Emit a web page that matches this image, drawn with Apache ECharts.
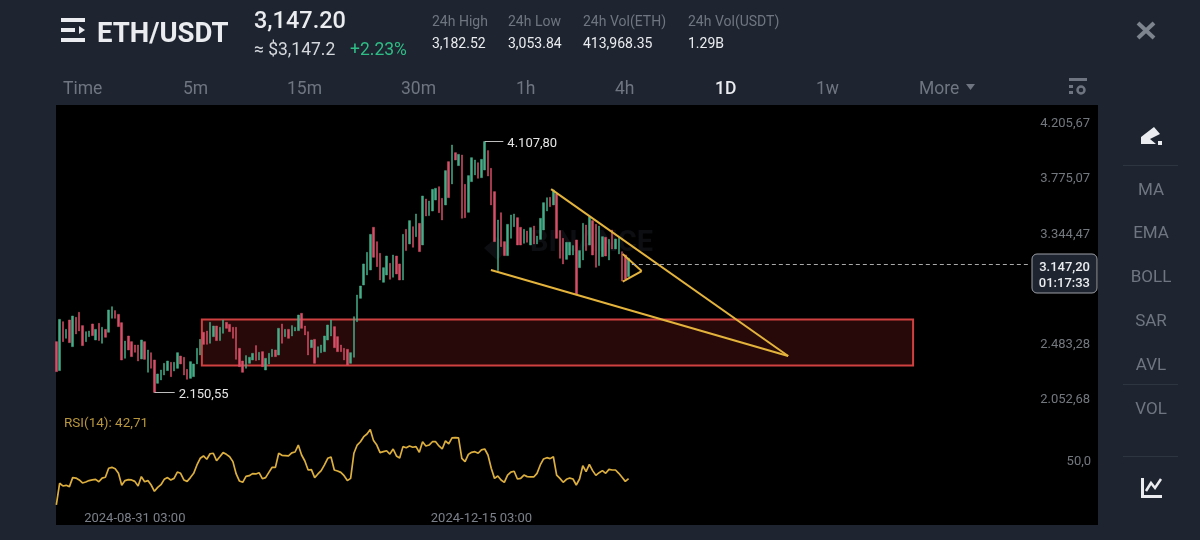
<!DOCTYPE html>
<html>
<head>
<meta charset="utf-8">
<style>html,body{margin:0;padding:0;background:#1e2530}#chart{width:1200px;height:540px}</style>
<script src="https://cdn.jsdelivr.net/npm/echarts@6/dist/echarts.min.js"></script>
</head>
<body>
<div id="chart"></div>
<script>
// daily candles (top and bottom of each bar)
var candleTops = [2547,2721,2703,2643,2716,2747,2737,2776,2672,2625,2630,2685,2643,2690,2659,2643,2794,2820,2789,2760,2695,2552,2591,2547,2521,2521,2560,2547,2482,2461,2404,2295,2326,2378,2396,2386,2386,2461,
  2435,2425,2331,2391,2373,2495,2565,2620,2630,2698,2669,2669,2659,2716,2698,2682,2659,2659,2495,2396,2438,2425,2456,2516,2464,2469,2417,2456,2487,2482,2651,2685,2643,2643,2672,2659,2755,
  2768,2669,2625,2560,2565,2508,2521,2591,2677,2716,2664,2586,2521,2495,2487,2461,2742,2911,2981,3153,3244,3384,3439,3327,3236,3124,3215,3158,3223,3215,3153,3384,3423,3491,3444,3543,
  3470,3683,3660,3644,3735,3743,3756,3665,3881,3951,4081,4021,4008,4003,3774,3842,3982,3964,3943,3969,4107.8,4037,3899,3717,3496,3553,3327,3462,3535,3543,
  3514,3439,3423,3410,3436,3449,3371,3509,3631,3670,3673,3730,3699,3413,3353,3322,3322,3296,3340,3257,3470,3457,3522,3491,3462,3449,3366,3361,3345,3418,3348,3361,3249,3223,3197];
var candleBottoms = [2313,2321,2547,2573,2539,2508,2607,2630,2516,2547,2586,2594,2560,2555,2534,2581,2620,2729,2729,2664,2404,2417,2482,2430,2464,2396,2412,2409,2308,2339,2150.55,2222,2248,2287,2321,2274,2318,2339,
  2373,2287,2253,2261,2274,2373,2443,2526,2526,2534,2586,2555,2555,2612,2651,2625,2573,2409,2352,2308,2339,2378,2404,2399,2404,2352,2326,2373,2430,2430,2443,2534,2586,2573,2591,2630,2633,
  2651,2599,2443,2500,2378,2425,2461,2469,2560,2591,2500,2469,2469,2404,2365,2378,2425,2703,2885,2989,3067,3106,3205,3132,3028,3010,3067,3033,3049,3075,3028,3028,3257,3309,3283,3366,
  3249,3301,3527,3530,3566,3652,3553,3496,3613,3670,3777,3964,3920,3509,3514,3556,3795,3847,3821,3826,3886,3839,3613,3327,3101,3288,3218,3218,3353,3444,
  3301,3301,3314,3322,3301,3309,3309,3345,3418,3566,3600,3613,3353,3197,3153,3189,3223,3223,2919,3124,3184,3257,3301,3223,3127,3140,3210,3215,3184,3270,3270,3231,3020,3036,3054];
// g = up candle, r = down candle
var candleDirs = ('rgrgrgrrrggrgrgrggrrrgrrrrgrgrrggggrgg'
  + 'rrrggggrrggrggrrrrrrgggrgrgggrgrgrggg'
  + 'rrrgrgggggrrrrrgggggggrrrggrgrrgrgrg'
  + 'rgrgggrrgrgrgrrgggrggrrrgrrggg'
  + 'rrgrgrggggrgrrrgggrggrgrrggrgrggrrg').split('');
var rsiValues = [26,39.7,38,38.4,37.6,43.3,43,41.8,39.9,40.5,41.4,41.8,42.2,40.7,43,43.5,49.2,49.8,48.9,46,38.4,41.4,42,41.8,40.9,38,43.9,40.7,41.4,38.6,34.6,37.1,38.8,42.2,43.3,41.8,42.8,46.8,46,41.8,40.9,43.3,46,51.3,55.5,57,54.9,58.4,58.7,54,56.5,59.1,58,56.5,53.4,45.6,41.1,40.3,44.1,44.5,45.8,45.6,46.4,42.6,43.3,46.6,49.8,49.8,58.7,57.4,57.2,57,58.9,59.5,63.9,57.6,53.8,48.1,48.3,43.3,45.6,47.7,51.3,55.5,56.3,48.1,47.5,46.6,44.5,41.4,42.8,58.7,63.9,66,69.2,70.9,73.8,66.7,63.9,59.1,59.7,60.3,58.2,61.4,57,55.7,62.9,62.2,63.3,62.5,62.9,59.3,66,63.3,63.9,66,66,63.3,61.4,66.5,64.6,68.4,68.6,68.4,55.5,53.4,58,59.3,59.7,58.7,60.8,61.4,57.6,49.2,42.8,44.3,41.8,40.3,44.9,46.8,47.3,42.4,42.8,44.9,43.9,43.7,43.7,46,51.3,55.1,55.9,55.3,56.5,44.9,42.8,40.3,42.2,43,42.4,38.6,42.4,50.8,47.1,51.7,47.7,44.7,46.4,47.7,46,48.5,48.1,48.1,46,43.5,40.9,42.71];
var priceTicks = [4205.67, 3775.07, 3344.47, 2483.28, 2052.68];
var rsiTicks = [50];
var dateLabels = ['2024-08-31 03:00', '2024-12-15 03:00'];

// drawn lines, as [candle position, price]
var upperTrend = [[151.8, 3737], [224.3, 2435]];
var lowerTrend = [[133.4, 3106], [224.3, 2435]];
var smallWedge = [[173.7, 3231], [179.5, 3098], [173.7, 3015]];
var supportZone = [[45, 2720], [262.5, 2361]];
var lastPrice = 3147.2;
var lastPriceLine = [[176.5, lastPrice], [298.3, lastPrice]];
var highMark = [[131.5, 4107.8], [137.2, 4107.8]];
var lowMark = [[30.5, 2150.55], [36.7, 2150.55]];

var slots = 320;
var categories = [];
for (var i = 0; i < slots; i++) {
  categories.push(new Date(Date.UTC(2024, 7, 7) + i * 864e5).toISOString().slice(0, 10) + ' 03:00');
}

var candles = candleTops.map(function (top, i) {
  var bottom = candleBottoms[i];
  return candleDirs[i] === 'g' ? [bottom, top, bottom, top] : [top, bottom, bottom, top];
});

function priceText(v) {
  var s = v.toFixed(2).split('.');
  return s[0].replace(/\B(?=(\d{3})+$)/g, '.') + ',' + s[1];
}

function seg(a, b, style, label) {
  var d = [{ coord: a, lineStyle: style }, { coord: b }];
  if (label) d[0].label = { show: true, position: 'end', formatter: label, color: '#e6e6e6', fontSize: 13, fontFamily: 'Roboto', distance: 3, offset: [1, 2] };
  return d;
}

var font = 'Roboto';
var fg = '#eaecef', dim = '#6f7681';
function txt(x, y, s, size, color, weight, align) {
  return { type: 'text', x: x, y: y + 2, silent: true, style: { text: s, fill: color, font: (weight || 400) + ' ' + size + 'px ' + font, align: align || 'left', verticalAlign: 'middle' } };
}
function box(x, y, w, h, c, r) {
  return { type: 'rect', silent: true, shape: { x: x, y: y, width: w, height: h, r: r || 0 }, style: { fill: c } };
}
function poly(pts, c) {
  return { type: 'polygon', silent: true, shape: { points: pts }, style: { fill: c } };
}

var ui = [
  Object.assign(box(56, 105, 1042, 420, '#000'), { z: -5 }),
  // watermark
  Object.assign(poly([[497, 237], [510, 248], [497, 260], [484, 248]], '#0c0e11'), { z: -4 }),
  Object.assign(txt(530, 242, 'BINANCE', 29, '#0c0e11', 700), { z: -4 }),
  // header
  box(61, 18, 24, 4, fg), box(61, 28, 14, 4, fg), poly([[79, 26], [85, 30], [79, 34]], fg), box(61, 38, 24, 4, fg),
  txt(97, 33, 'ETH/USDT', 27.5, fg, 700),
  txt(254, 20, '3,147.20', 23.5, fg, 500),
  txt(254, 49, '≈ $3,147.2', 17.5, '#d5d8dc', 400),
  txt(350, 49, '+2.23%', 17.5, '#2ebd85', 400),
  txt(432, 20, '24h High', 14, dim), txt(508, 20, '24h Low', 14, dim), txt(583, 20, '24h Vol(ETH)', 14, dim), txt(688, 20, '24h Vol(USDT)', 14, dim),
  txt(432, 42, '3,182.52', 14, fg), txt(508, 42, '3,053.84', 14, fg), txt(583, 42, '413,968.35', 14, fg), txt(688, 42, '1.29B', 14, fg),
  { type: 'line', silent: true, shape: { x1: 1138, y1: 23, x2: 1154, y2: 38 }, style: { stroke: '#7d848e', lineWidth: 4 } },
  { type: 'line', silent: true, shape: { x1: 1154, y1: 23, x2: 1138, y2: 38 }, style: { stroke: '#7d848e', lineWidth: 4 } },
  // timeframe tabs
  txt(63, 88, 'Time', 17.5, dim), txt(183, 88, '5m', 17.5, dim), txt(287, 88, '15m', 17.5, dim), txt(401, 88, '30m', 17.5, dim),
  txt(516, 88, '1h', 17.5, dim), txt(615, 88, '4h', 17.5, dim), txt(715, 88, '1D', 17.5, fg, 500), txt(816, 88, '1w', 17.5, dim), txt(919, 88, 'More', 17.5, dim),
  poly([[966, 84], [975, 84], [970.5, 90]], dim),
  box(1069, 78, 18, 3, dim), box(1069, 85, 4, 3, dim), box(1069, 91, 4, 3, dim),
  { type: 'circle', silent: true, shape: { cx: 1081, cy: 90, r: 3.5 }, style: { fill: 'none', stroke: dim, lineWidth: 2.5 } },
  // side rail
  poly([[1141, 144], [1141, 137], [1154, 127], [1160, 134], [1150, 139], [1156, 144]], fg), box(1158, 141, 4, 4, fg),
  box(1123, 165, 55, 1, '#2d3540'), box(1123, 384, 55, 1, '#2d3540'), box(1123, 456, 55, 1, '#2d3540'),
  txt(1151, 189, 'MA', 17, dim, 400, 'center'), txt(1151, 232, 'EMA', 17, dim, 400, 'center'), txt(1151, 276, 'BOLL', 17, dim, 400, 'center'),
  txt(1151, 320, 'SAR', 17, dim, 400, 'center'), txt(1151, 364, 'AVL', 17, dim, 400, 'center'), txt(1151, 408, 'VOL', 17, dim, 400, 'center'),
  box(1141, 478, 3, 20, fg), box(1141, 495, 21, 3, fg),
  { type: 'polyline', silent: true, shape: { points: [[1146, 491], [1151, 483], [1155, 488], [1161, 479]] }, style: { fill: 'none', stroke: fg, lineWidth: 2.5 } },
  // price tag and RSI caption
  { type: 'rect', silent: true, z: 20, shape: { x: 1032, y: 254, width: 65, height: 39, r: 5 }, style: { fill: '#1e2530', stroke: '#9a9ea5', lineWidth: 1 } },
  Object.assign(txt(1090, 266, priceText(lastPrice), 13, fg, 500, 'right'), { z: 21 }),
  Object.assign(txt(1090, 282, '01:17:33', 13, fg, 500, 'right'), { z: 21 }),
  Object.assign(txt(64, 422, 'RSI(14): 42,71', 13.5, '#b8963e'), { z: 21 })
];

var trendStyle = { color: '#e3b33c', width: 2, type: 'solid' };
var leaderStyle = { color: '#bdbdbd', width: 1, type: 'solid' };

var chart = echarts.init(document.getElementById('chart'));
chart.setOption({
  animation: false,
  backgroundColor: '#1e2530',
  graphic: ui,
  grid: [
    { left: 54.7, top: 105, width: 1046.4, height: 305 },
    { left: 54.7, top: 410, width: 1046.4, height: 115 }
  ],
  xAxis: [
    { type: 'category', gridIndex: 0, data: categories, show: false },
    { type: 'value', gridIndex: 0, min: 0, max: slots, show: false },
    {
      type: 'category', gridIndex: 1, data: categories,
      axisLine: { show: false }, axisTick: { show: false }, splitLine: { show: false },
      axisLabel: {
        inside: true, margin: 0, color: '#7b808a', fontSize: 13, fontFamily: font, verticalAlign: 'bottom',
        interval: function (i, v) { return dateLabels.indexOf(v) >= 0; }
      }
    }
  ],
  yAxis: [
    {
      type: 'value', gridIndex: 0, position: 'right', min: 2013.87, max: 4392.87, scale: true,
      axisLine: { show: false }, axisTick: { show: false }, splitLine: { show: false },
      axisLabel: {
        inside: true, margin: 11, color: '#73787f', fontSize: 13, fontFamily: font, verticalAlign: 'bottom', lineHeight: 10,
        customValues: priceTicks, formatter: priceText
      }
    },
    {
      type: 'value', gridIndex: 1, position: 'right', min: 13.29, max: 86.08, scale: true,
      axisLine: { show: false }, axisTick: { show: false }, splitLine: { show: false },
      axisLabel: {
        inside: true, margin: 10, color: '#73787f', fontSize: 13, fontFamily: font, verticalAlign: 'bottom', lineHeight: 10,
        customValues: rsiTicks, formatter: function (v) { return v.toFixed(1).replace('.', ','); }
      }
    }
  ],
  series: [
    {
      type: 'line', xAxisIndex: 1, yAxisIndex: 0, data: [], z: 1, silent: true,
      markArea: {
        silent: true,
        itemStyle: { color: '#280909', borderColor: '#cf4040', borderWidth: 2 },
        data: [[{ coord: supportZone[0] }, { coord: supportZone[1] }]]
      }
    },
    {
      type: 'candlestick', xAxisIndex: 0, yAxisIndex: 0, z: 2, barWidth: 2, data: candles,
      itemStyle: { color: '#45ad88', color0: '#d64f67', borderColor: '#45ad88', borderColor0: '#d64f67', borderWidth: 0.5 }
    },
    {
      type: 'line', xAxisIndex: 1, yAxisIndex: 0, data: [], z: 3, silent: true,
      markLine: {
        silent: true, symbol: 'none', animation: false, label: { show: false },
        data: [
          seg(upperTrend[0], upperTrend[1], trendStyle),
          seg(lowerTrend[0], lowerTrend[1], trendStyle),
          seg(smallWedge[0], smallWedge[1], trendStyle),
          seg(smallWedge[1], smallWedge[2], trendStyle),
          seg(lastPriceLine[0], lastPriceLine[1], { color: '#a8a8a8', width: 1, type: [4, 3] }),
          seg(highMark[0], highMark[1], leaderStyle, priceText(highMark[0][1])),
          seg(lowMark[0], lowMark[1], leaderStyle, priceText(lowMark[0][1]))
        ]
      }
    },
    {
      type: 'line', xAxisIndex: 2, yAxisIndex: 1, data: rsiValues, showSymbol: false, silent: true,
      lineStyle: { color: '#dcae3d', width: 1.7 }
    }
  ]
});
</script>
</body>
</html>
